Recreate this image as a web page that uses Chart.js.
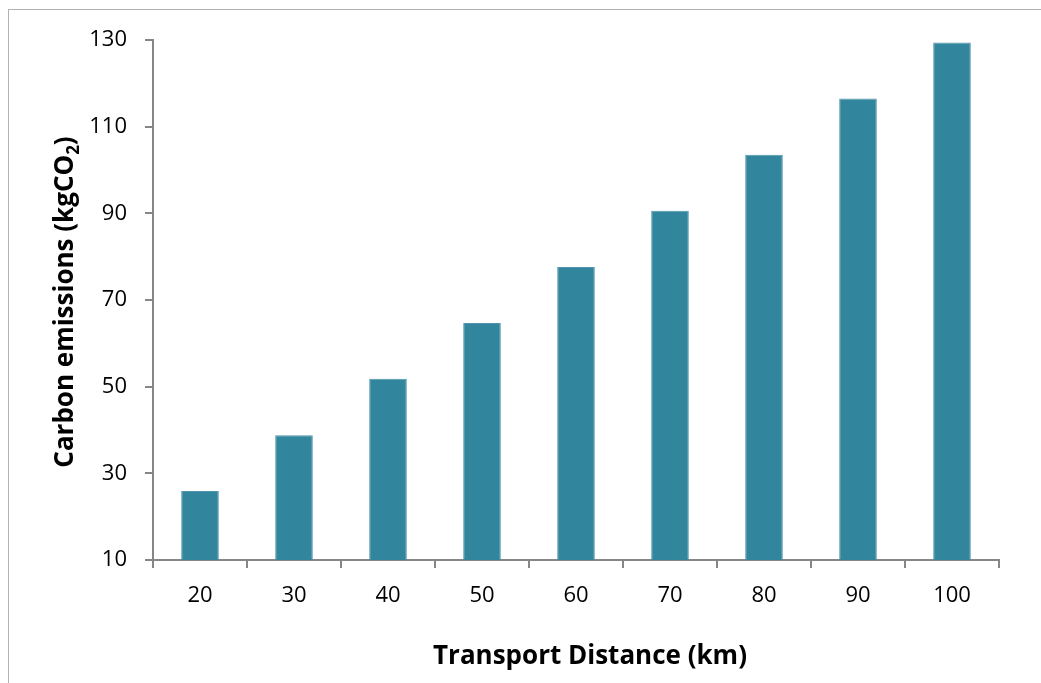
<!DOCTYPE html>
<html>
<head>
<meta charset="utf-8">
<script src="https://cdn.jsdelivr.net/npm/chart.js@4"></script>
<style>
  html, body { margin: 0; padding: 0; background: #fff; overflow: hidden; }
  #wrap { position: relative; width: 1041px; height: 683px; }
  #frame { position: absolute; left: 8px; top: 9px; width: 1200px; height: 900px;
           border: 1px solid #b2b2b2; box-sizing: border-box; }
  #c { position: absolute; left: 0; top: 0; }
</style>
</head>
<body>
<div id="wrap">
  <div id="frame"></div>
  <canvas id="c" width="1041" height="683"></canvas>
</div>
<script>
// Transport distance categories (km) and the resulting carbon emissions (kgCO2)
const distances = ['20', '30', '40', '50', '60', '70', '80', '90', '100'];
const emissions = [25.9, 38.8, 51.8, 64.7, 77.6, 90.6, 103.5, 116.5, 129.4];
const yTickValues = [10, 30, 50, 70, 90, 110, 130];

const xTitle = 'Transport Distance (km)';
const yTitleMain = 'Carbon emissions (kgCO';
const yTitleSub = '2';
const yTitleTail = ')';

const FONT = '"Open Sans", Lato, sans-serif';
const AXIS_GREY = '#868686';
const BAR_FILL = '#31859c';
const TITLE_SIZE = 26;

// Axis titles drawn on the canvas so the y title can carry a subscript
const axisTitles = {
  id: 'axisTitles',
  afterDraw(chart) {
    const { ctx } = chart;
    const size = TITLE_SIZE;
    const subSize = Math.round(size * 0.65);
    ctx.save();
    ctx.fillStyle = '#000';
    ctx.textBaseline = 'middle';

    ctx.font = `bold ${size}px ${FONT}`;
    ctx.textAlign = 'center';
    ctx.fillText(xTitle, 590, 657);

    ctx.translate(66, 302);
    ctx.rotate(-Math.PI / 2);
    ctx.textAlign = 'left';
    const wMain = ctx.measureText(yTitleMain).width;
    const wTail = ctx.measureText(yTitleTail).width;
    ctx.font = `bold ${subSize}px ${FONT}`;
    const wSub = ctx.measureText(yTitleSub).width;
    let x = -(wMain + wSub + wTail) / 2;
    ctx.font = `bold ${size}px ${FONT}`;
    ctx.fillText(yTitleMain, x, 0);
    x += wMain;
    ctx.font = `bold ${subSize}px ${FONT}`;
    ctx.fillText(yTitleSub, x, size * 0.32);
    x += wSub;
    ctx.font = `bold ${size}px ${FONT}`;
    ctx.fillText(yTitleTail, x, 0);
    ctx.restore();
  }
};

new Chart(document.getElementById('c'), {
  type: 'bar',
  data: {
    labels: distances,
    datasets: [{
      data: emissions,
      backgroundColor: BAR_FILL,
      borderColor: '#4f95aa',
      borderWidth: { top: 1, left: 1, right: 1, bottom: 0 },
      barPercentage: 0.4,
      categoryPercentage: 1.0
    }]
  },
  options: {
    responsive: false,
    animation: false,
    layout: { padding: { left: 0, top: 40, right: 42, bottom: 0 } },
    plugins: {
      legend: { display: false },
      tooltip: { enabled: false }
    },
    scales: {
      x: {
        grid: {
          display: true,
          offset: true,
          drawOnChartArea: false,
          drawTicks: true,
          tickLength: 8,
          color: AXIS_GREY,
          lineWidth: 2
        },
        border: { display: true, color: AXIS_GREY, width: 2 },
        ticks: {
          color: '#000',
          font: { family: FONT, size: 22 },
          padding: 15,
          maxRotation: 0
        },
        afterFit(scale) { scale.height = 123; }
      },
      y: {
        min: 10,
        max: 130,
        afterBuildTicks(scale) {
          scale.ticks = yTickValues.map(v => ({ value: v }));
        },
        grid: {
          display: true,
          drawOnChartArea: false,
          drawTicks: true,
          tickLength: 8,
          color: AXIS_GREY,
          lineWidth: 2
        },
        border: { display: true, color: AXIS_GREY, width: 2 },
        ticks: {
          color: '#000',
          font: { family: FONT, size: 22 },
          padding: 18
        },
        afterFit(scale) { scale.width = 153; }
      }
    }
  },
  plugins: [axisTitles]
});
</script>
</body>
</html>
